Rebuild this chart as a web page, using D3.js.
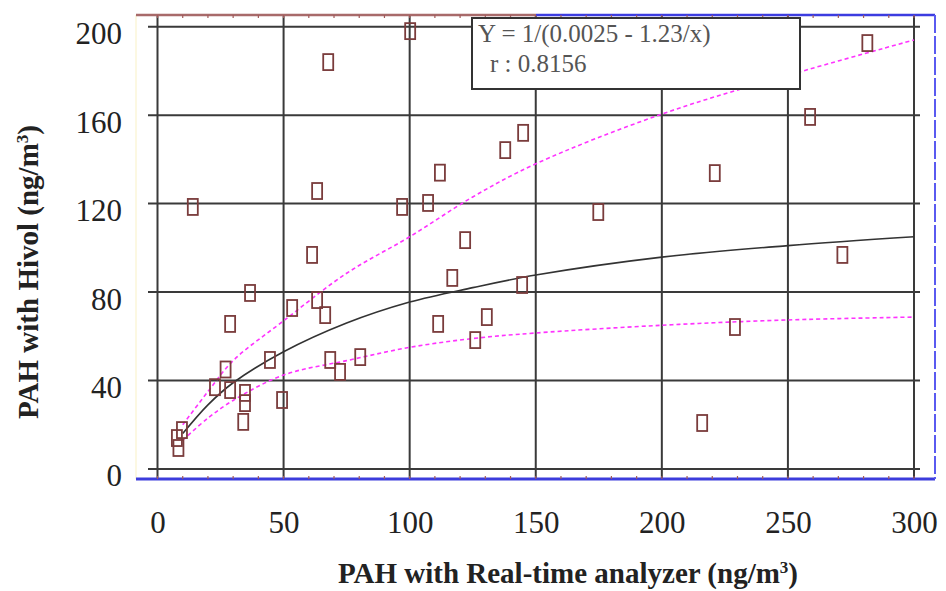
<!DOCTYPE html>
<html>
<head>
<meta charset="utf-8">
<script src="https://cdn.jsdelivr.net/npm/d3@7/dist/d3.min.js"></script>
<style>
  html, body { margin: 0; padding: 0; background: #fff; }
  svg { display: block; }
  svg text { font-family: "Liberation Serif", "Times New Roman", Times, serif; }
</style>
</head>
<body>
<svg id="chart" width="946" height="591"></svg>
<script>
// Axis ticks
const xTicks = [0, 50, 100, 150, 200, 250, 300];
const yTicks = [0, 40, 80, 120, 160, 200];

// Paired samples: real-time analyzer vs. Hivol (ng/m3)
const pahRealTime = [100.2, 67.7, 112, 63.3, 14, 97, 107.3, 61.3, 122, 116.9,
  36.7, 53.4, 63.3, 66.5, 28.8, 111.3, 126, 44.6, 27, 68.5,
  80.4, 72.4, 130.6, 144.6, 174.8, 271.6, 229, 281.5, 258.8, 221,
  137.9, 145, 216, 22.8, 28.8, 34.7, 34.7, 34, 49.4, 9.7,
  7.7, 8.3];
const pahHivol = [198, 184, 134, 125.7, 118.5, 118.5, 120.3, 96.8, 103.5, 86.4,
  79.6, 72.8, 76.4, 69.6, 65.6, 65.6, 58.3, 49.3, 45, 49.3,
  50.6, 43.9, 68.7, 83.2, 116.2, 96.8, 64.2, 192.6, 159.2, 133.8,
  144.2, 152, 20.8, 37, 35.7, 34.4, 29.8, 21.3, 31.2, 17.6,
  14, 9.5];

// Fitted curve and its two bounds, sampled along x
const curveX     = [10, 20, 30, 50, 75, 100, 125, 150, 200, 250, 300];
const fitY       = [16, 29, 39, 53, 66, 75.5, 82, 87.7, 95.8, 101, 105];
const upperY     = [20, 35, 49, 67, 88.5, 105, 123, 138, 160.5, 178, 194];
const lowerY     = [13, 23, 31, 42.5, 49, 55, 59, 61.5, 65, 67.4, 68.7];

const fitEquation = "Y = 1/(0.0025 - 1.23/x)";
const fitR = "r : 0.8156";

const svg = d3.select("#chart");
const x = d3.scaleLinear().domain([0, 300]).range([157.5, 914]);
const y = d3.scaleLinear().domain([0, 200]).range([469, 26.7]);

const frameTop = 15, frameBottom = 479, frameLeft = 136, frameRight = 935;

// faint left edge line
svg.append("line")
  .attr("x1", frameLeft).attr("x2", frameLeft)
  .attr("y1", frameTop).attr("y2", frameBottom)
  .attr("stroke", "#fbf6d8").attr("stroke-width", 1.5);

// grid
const grid = svg.append("g").attr("stroke", "#3a3a3a").attr("stroke-width", 2);
grid.selectAll("line.v").data(xTicks).join("line")
  .attr("class", "v")
  .attr("x1", d => x(d)).attr("x2", d => x(d))
  .attr("y1", frameTop).attr("y2", frameBottom);
grid.selectAll("line.h").data(yTicks).join("line")
  .attr("class", "h")
  .attr("x1", 148).attr("x2", 920)
  .attr("y1", d => y(d)).attr("y2", d => y(d));

// frame
svg.append("line")
  .attr("x1", frameLeft).attr("x2", 536)
  .attr("y1", frameTop).attr("y2", frameTop)
  .attr("stroke", "#a86a6a").attr("stroke-width", 2.5);
svg.append("line")
  .attr("x1", 536).attr("x2", frameRight)
  .attr("y1", frameTop).attr("y2", frameTop)
  .attr("stroke", "#3c3ce0").attr("stroke-width", 2.5);
svg.append("line")
  .attr("x1", frameLeft).attr("x2", frameRight)
  .attr("y1", frameBottom).attr("y2", frameBottom)
  .attr("stroke", "#3c3cdc").attr("stroke-width", 3);
svg.append("line")
  .attr("x1", frameRight).attr("x2", frameRight)
  .attr("y1", frameTop).attr("y2", frameBottom)
  .attr("stroke", "#5a5af0").attr("stroke-width", 2)
  .attr("stroke-dasharray", "18,3");

// minor ticks on top and bottom frame lines
const minor = d3.range(0, 301, 10);
svg.append("g").selectAll("line").data(minor).join("line")
  .attr("x1", d => x(d)).attr("x2", d => x(d))
  .attr("y1", frameTop).attr("y2", frameTop + 3)
  .attr("stroke", "#a05a5a").attr("stroke-width", 1.2);
svg.append("g").selectAll("line").data(minor).join("line")
  .attr("x1", d => x(d)).attr("x2", d => x(d))
  .attr("y1", frameBottom - 3).attr("y2", frameBottom)
  .attr("stroke", "#a05a5a").attr("stroke-width", 1.2);

// curves
const line = d3.line().x(d => x(d[0])).y(d => y(d[1])).curve(d3.curveCatmullRom);
const pts = ys => curveX.map((v, i) => [v, ys[i]]);
svg.append("path").attr("d", line(pts(upperY)))
  .attr("fill", "none").attr("stroke", "#ff33ff").attr("stroke-width", 1.6)
  .attr("stroke-dasharray", "4,3");
svg.append("path").attr("d", line(pts(lowerY)))
  .attr("fill", "none").attr("stroke", "#ff33ff").attr("stroke-width", 1.6)
  .attr("stroke-dasharray", "4,3");
svg.append("path").attr("d", line(pts(fitY)))
  .attr("fill", "none").attr("stroke", "#333").attr("stroke-width", 1.6);

// sample markers
const mw = 10, mh = 16;
svg.append("g").selectAll("rect").data(pahRealTime).join("rect")
  .attr("x", (d, i) => x(d) - mw / 2)
  .attr("y", (d, i) => y(pahHivol[i]) - mh / 2)
  .attr("width", mw).attr("height", mh)
  .attr("fill", "none").attr("stroke", "#7a3c3c").attr("stroke-width", 1.8);

// equation box
svg.append("rect")
  .attr("x", 472).attr("y", 18).attr("width", 328).attr("height", 71)
  .attr("fill", "#fff").attr("stroke", "#333").attr("stroke-width", 2);
svg.append("text").attr("x", 478).attr("y", 42)
  .attr("font-size", 25).attr("fill", "#555")
  .text(fitEquation);
svg.append("text").attr("x", 490).attr("y", 72)
  .attr("font-size", 25).attr("fill", "#555")
  .text(fitR);

// tick labels via axes
const yAxis = svg.append("g")
  .attr("transform", "translate(157.5,7)")
  .call(d3.axisLeft(y).tickValues(yTicks).tickSize(0).tickPadding(35.5));
const xAxis = svg.append("g")
  .attr("transform", "translate(0,469)")
  .call(d3.axisBottom(x).tickValues(xTicks).tickSize(0).tickPadding(0));
[yAxis, xAxis].forEach(g => {
  g.attr("font-family", null);
  g.select(".domain").remove();
  g.selectAll("text").attr("font-size", 31).attr("fill", "#222");
});
xAxis.selectAll("text").attr("y", 64).attr("dy", 0);

// axis titles
const xt = svg.append("text")
  .attr("x", 568).attr("y", 583).attr("text-anchor", "middle")
  .attr("font-size", 29).attr("font-weight", "bold")
  .attr("fill", "#222");
xt.append("tspan").text("PAH with Real-time analyzer (ng/m");
xt.append("tspan").attr("dy", -10).attr("font-size", 17).text("3");
xt.append("tspan").attr("dy", 10).text(")");

const yt = svg.append("text")
  .attr("transform", "translate(38,272) rotate(-90)")
  .attr("text-anchor", "middle")
  .attr("font-size", 29).attr("font-weight", "bold")
  .attr("fill", "#222");
yt.append("tspan").text("PAH with Hivol (ng/m");
yt.append("tspan").attr("dy", -10).attr("font-size", 17).text("3");
yt.append("tspan").attr("dy", 10).text(")");
</script>
</body>
</html>
